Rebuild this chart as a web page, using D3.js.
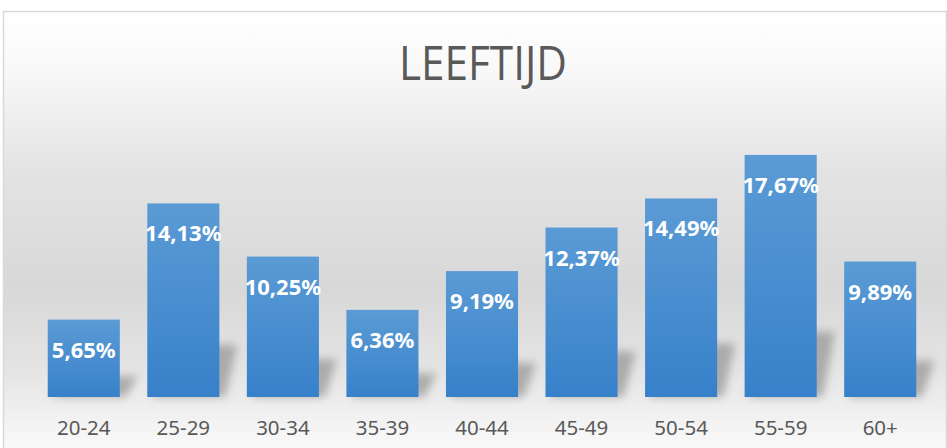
<!DOCTYPE html>
<html>
<head>
<meta charset="utf-8">
<script src="https://cdn.jsdelivr.net/npm/d3@7"></script>
<style>
  html, body { margin: 0; padding: 0; background: #fff; }
  svg { display: block; }
</style>
</head>
<body>
<svg id="vis"></svg>
<script>
const categories = ["20-24","25-29","30-34","35-39","40-44","45-49","50-54","55-59","60+"];
const values = [5.65, 14.13, 10.25, 6.36, 9.19, 12.37, 14.49, 17.67, 9.89];
const title = "LEEFTIJD";

const W = 947, H = 448;
const base = 397;

const svg = d3.select("#vis").attr("width", W).attr("height", H);
const defs = svg.append("defs");

// chart background: white -> grey -> white
const bg = defs.append("linearGradient").attr("id", "bg")
    .attr("x1", 0).attr("y1", 0).attr("x2", 0).attr("y2", 1);
[[0, "#ffffff"], [0.12, "#f9f9f9"], [0.35, "#e3e3e3"], [0.6, "#d8d8d8"], [0.78, "#e4e4e4"], [0.92, "#f6f6f6"], [1, "#fdfdfd"]]
    .forEach(s => bg.append("stop").attr("offset", s[0]).attr("stop-color", s[1]));

const barGrad = defs.append("linearGradient").attr("id", "bar")
    .attr("x1", 0).attr("y1", 0).attr("x2", 0).attr("y2", 1);
barGrad.append("stop").attr("offset", 0).attr("stop-color", "#5b9bd5");
barGrad.append("stop").attr("offset", 1).attr("stop-color", "#3781ca");

defs.append("filter").attr("id", "blur")
    .attr("x", "-50%").attr("y", "-50%").attr("width", "200%").attr("height", "200%")
    .append("feGaussianBlur").attr("stdDeviation", 4);

svg.append("rect")
    .attr("x", 3.5).attr("y", 11.5)
    .attr("width", 943).attr("height", 460)
    .attr("fill", "url(#bg)")
    .attr("stroke", "#d9d9d9").attr("stroke-width", 1.5);

const x = d3.scaleBand().domain(categories).range([34, 930]).paddingInner(0.276).paddingOuter(0.138);
const y = d3.scaleLinear().domain([0, 20]).range([base, base - 20 * 13.7]);

// soft shadows behind bars
svg.append("g").attr("filter", "url(#blur)")
  .selectAll("polygon").data(values).join("polygon")
    .attr("points", (d, i) => {
        const x0 = x(categories[i]), x1 = x0 + x.bandwidth();
        const h = base - y(d), top = base - h * 0.27, dx = 18;
        return [[x0 + 4, base], [x1 + 6, base], [x1 + dx, top], [x0 + dx, top]].map(p => p.join(",")).join(" ");
    })
    .attr("fill", "#858585")
    .attr("opacity", 0.6);

svg.append("g").selectAll("rect").data(values).join("rect")
    .attr("x", (d, i) => x(categories[i]))
    .attr("y", d => y(d))
    .attr("width", x.bandwidth())
    .attr("height", d => base - y(d))
    .attr("fill", "url(#bar)");

svg.append("g").selectAll("text").data(values).join("text")
    .attr("x", (d, i) => x(categories[i]) + x.bandwidth() / 2)
    .attr("y", d => y(d) + 38)
    .attr("text-anchor", "middle")
    .attr("font-family", "'Noto Sans', 'Open Sans', sans-serif")
    .attr("font-weight", "bold")
    .attr("font-size", 22)
    .attr("fill", "#ffffff")
    .text(d => d.toFixed(2).replace(".", ",") + "%");

const xAxis = svg.append("g")
    .attr("transform", `translate(0,${base})`)
    .call(d3.axisBottom(x).tickSize(0).tickPadding(0));
xAxis.select(".domain").remove();
xAxis.selectAll("text")
    .attr("y", 38)
    .attr("dy", null)
    .attr("font-family", "'Noto Sans', 'Open Sans', sans-serif")
    .attr("font-size", 20.5)
    .attr("fill", "#595959");

svg.append("text")
    .attr("x", 483).attr("y", 80)
    .attr("text-anchor", "middle")
    .attr("font-family", "'Liberation Sans Narrow', 'Open Sans', sans-serif")
    .attr("font-size", 48)
    .attr("textLength", 168)
    .attr("lengthAdjust", "spacingAndGlyphs")
    .attr("fill", "#595959")
    .text(title);
</script>
</body>
</html>
